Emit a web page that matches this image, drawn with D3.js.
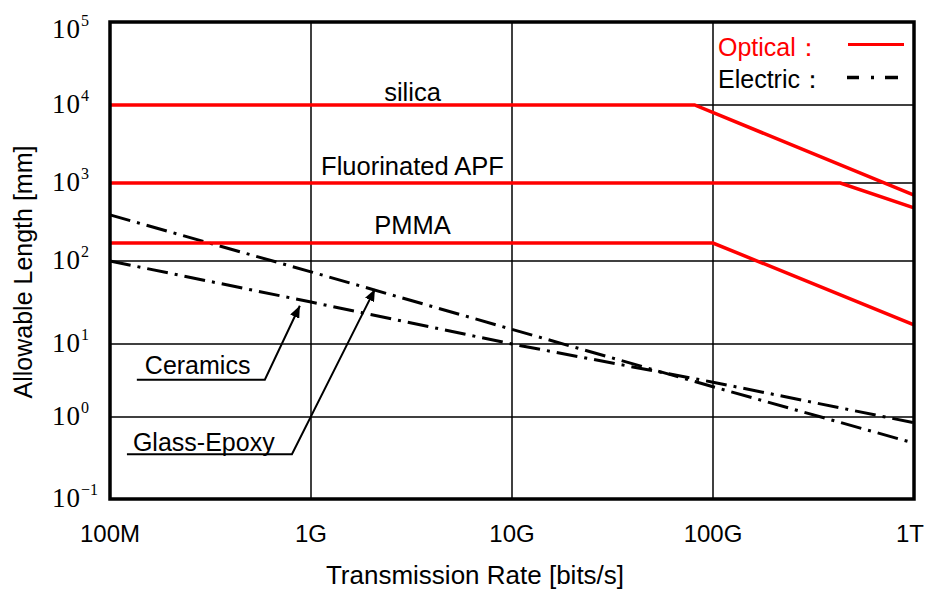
<!DOCTYPE html>
<html>
<head>
<meta charset="utf-8">
<script src="https://cdn.jsdelivr.net/npm/d3@7/dist/d3.min.js"></script>
<style>
  html, body { margin: 0; padding: 0; background: #fff; }
  svg { display: block; }
  .sans { font-family: "Liberation Sans", Arial, Helvetica, sans-serif; }
  .serif { font-family: "Liberation Serif", "Times New Roman", serif; }
</style>
</head>
<body>
<svg id="chart" width="929" height="589"></svg>
<script>
// Transmission rate (bits/s) tick marks and their labels
const rateTicks = [1e8, 1e9, 1e10, 1e11, 1e12];
const rateLabels = ["100M", "1G", "10G", "100G", "1T"];
// Allowable length decades (mm), 10^5 down to 10^-1
const lengthExponents = [5, 4, 3, 2, 1, 0, -1];

// Optical waveguides (red solid lines)
const opticalNames = ["silica", "Fluorinated APF", "PMMA"];
const silicaRate = [1e8, 8.1e10, 1e12];
const silicaLength = [1e4, 1e4, 700];
const apfRate = [1e8, 4.3e11, 1e12];
const apfLength = [1000, 1000, 480];
const pmmaRate = [1e8, 1e11, 1e12];
const pmmaLength = [170, 170, 17];

// Electric wiring boards (black dash-dot lines)
const electricNames = ["Ceramics", "Glass-Epoxy"];
const electricRate = [1e8, 1e9, 1e10, 1e11, 1e12];
const ceramicsLength = [100, 32, 10, 3.0, 0.85];
const glassEpoxyLength = [390, 74, 15, 2.6, 0.48];

const legendLabels = ["Optical：", "Electric："];

const svg = d3.select("#chart");
const plotLeft = 110, plotRight = 914, plotTop = 22, plotBottom = 499;

const x = d3.scaleLog().domain([1e8, 1e12]).range([plotLeft, plotRight]);
// piecewise log scale: each decade band of the plot
const y = d3.scaleLog()
  .domain(lengthExponents.map(e => Math.pow(10, e)))
  .range([22, 105, 183, 261, 344, 417, 499]);

const zip = (xs, ys) => xs.map((v, i) => [v, ys[i]]);
const line = d3.line().x(d => x(d[0])).y(d => y(d[1]));

// grid
const grid = svg.append("g").attr("stroke", "#000").attr("stroke-width", 1.5);
grid.selectAll("line.v").data(rateTicks.slice(1, -1)).join("line")
  .attr("x1", d => x(d)).attr("x2", d => x(d))
  .attr("y1", plotTop).attr("y2", plotBottom);
grid.selectAll("line.h").data(lengthExponents.slice(1, -1)).join("line")
  .attr("x1", plotLeft).attr("x2", plotRight)
  .attr("y1", d => y(Math.pow(10, d))).attr("y2", d => y(Math.pow(10, d)));

// electric series
const electric = [zip(electricRate, ceramicsLength), zip(electricRate, glassEpoxyLength)];
svg.append("g").selectAll("path").data(electric).join("path")
  .attr("d", line).attr("fill", "none").attr("stroke", "#000")
  .attr("stroke-width", 3).attr("stroke-dasharray", "21,7,3,7");

// optical series
const optical = [zip(silicaRate, silicaLength), zip(apfRate, apfLength), zip(pmmaRate, pmmaLength)];
svg.append("g").selectAll("path").data(optical).join("path")
  .attr("d", line).attr("fill", "none").attr("stroke", "#ff0000")
  .attr("stroke-width", 3.5);

// optical labels above the flat part of each line
const labelRate = 3.2e9;
svg.append("g").attr("class", "sans").selectAll("text").data(opticalNames).join("text")
  .attr("x", x(labelRate))
  .attr("y", (d, i) => y(optical[i][0][1]) - [4, 8, 9][i])
  .attr("text-anchor", "middle").attr("font-size", 25.5).attr("fill", "#000")
  .text(d => d);

// arrow marker
svg.append("defs").append("marker")
  .attr("id", "arrow").attr("viewBox", "0 0 12 10")
  .attr("refX", 12).attr("refY", 5)
  .attr("markerWidth", 12).attr("markerHeight", 10)
  .attr("markerUnits", "userSpaceOnUse").attr("orient", "auto")
  .append("path").attr("d", "M0,0 L12,5 L0,10 Z").attr("fill", "#000");

// callouts pointing at the electric lines
function valueAt(rates, lens, r) {
  const lx = rates.map(Math.log10), ly = lens.map(Math.log10);
  const s = d3.scaleLinear().domain(lx).range(ly);
  return Math.pow(10, s(Math.log10(r)));
}
const callouts = [
  { name: electricNames[0], rate: 8.8e8, len: valueAt(electricRate, ceramicsLength, 8.8e8),
    dy: 6, elbow: [-35, 74], start: [-163, 74], text: [-155, 68] },
  { name: electricNames[1], rate: 2.08e9, len: valueAt(electricRate, glassEpoxyLength, 2.08e9),
    dy: -1, elbow: [-83, 165], start: [-248, 165], text: [-242, 162] }
];
const co = svg.append("g");
callouts.forEach(c => {
  const tx = x(c.rate), ty = y(c.len) + c.dy;
  co.append("path")
    .attr("d", `M${tx + c.start[0]},${ty + c.start[1]} L${tx + c.elbow[0]},${ty + c.elbow[1]} L${tx},${ty}`)
    .attr("fill", "none").attr("stroke", "#000").attr("stroke-width", 2)
    .attr("marker-end", "url(#arrow)");
  co.append("text").attr("class", "sans")
    .attr("x", tx + c.text[0]).attr("y", ty + c.text[1])
    .attr("font-size", 25).attr("fill", "#000").text(c.name);
});

// frame
svg.append("rect").attr("x", plotLeft).attr("y", plotTop)
  .attr("width", plotRight - plotLeft).attr("height", plotBottom - plotTop)
  .attr("fill", "none").attr("stroke", "#000").attr("stroke-width", 3.5);

// x tick labels
svg.append("g").attr("class", "sans").selectAll("text").data(rateTicks).join("text")
  .attr("x", d => Math.min(x(d), 910)).attr("y", 542)
  .attr("text-anchor", "middle").attr("font-size", 24).attr("fill", "#000")
  .text((d, i) => rateLabels[i]);

// y tick labels 10^n
const yl = svg.append("g").attr("class", "serif").selectAll("text").data(lengthExponents).join("text")
  .attr("x", 52).attr("y", d => Math.max(y(Math.pow(10, d)) + 8, plotTop + 16))
  .attr("font-size", 27).attr("fill", "#000");
yl.append("tspan").attr("letter-spacing", 1).text("10");
yl.append("tspan").attr("font-size", 16).attr("dy", -12).text(d => d < 0 ? "−" + (-d) : String(d));

// axis titles
svg.append("text").attr("class", "sans")
  .attr("x", 475).attr("y", 584).attr("text-anchor", "middle")
  .attr("font-size", 26).attr("fill", "#000").text("Transmission Rate [bits/s]");
svg.append("text").attr("class", "sans")
  .attr("transform", "translate(32,272) rotate(-90)").attr("text-anchor", "middle")
  .attr("font-size", 25).attr("fill", "#000").text("Allowable Length [mm]");

// legend
const lg = svg.append("g").attr("class", "sans");
lg.append("text").attr("x", 718).attr("y", 56).attr("font-size", 25)
  .attr("fill", "#ff0000").text(legendLabels[0]);
lg.append("text").attr("x", 718).attr("y", 88).attr("font-size", 25)
  .attr("fill", "#000").text(legendLabels[1]);
lg.append("line").attr("x1", 848).attr("x2", 904).attr("y1", 44.5).attr("y2", 44.5)
  .attr("stroke", "#ff0000").attr("stroke-width", 3);
lg.append("line").attr("x1", 847).attr("x2", 898).attr("y1", 77.5).attr("y2", 77.5)
  .attr("stroke", "#000").attr("stroke-width", 3.5).attr("stroke-dasharray", "12,12,3,11,13");
</script>
</body>
</html>
